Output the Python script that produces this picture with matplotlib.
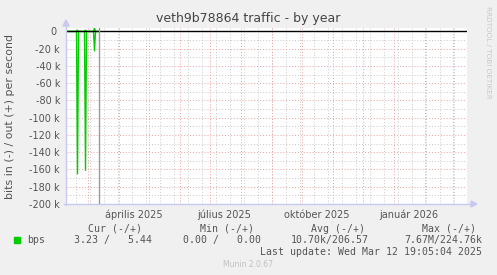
import matplotlib
matplotlib.use("Agg")
import matplotlib.pyplot as plt
import matplotlib.dates as mdates
import pandas as pd
import numpy as np
from matplotlib.lines import Line2D

# ---------------- data ----------------
title = "veth9b78864 traffic - by year"
ylabel = "bits in (-) / out (+) per second"

day_dates = pd.date_range("2025-02-09", "2025-03-12", freq="D")
in_values = [0, 2, 3, 2, 1, 3, 2, 4, 2, 3, -165000, 3, 2, 1, 2, 3, 2, 2, -161000, 2,
             3, 1, 2, 2, 3, 2, 2, -22500, 3, 2, 1, 3]
out_values = [5, 4, 6, 5, 4, 6, 5, 6, 5, 4, 1500, 5, 6, 4, 5, 6, 5, 4, 1500, 5,
              6, 4, 5, 6, 5, 4, 5, 4200, 5, 6, 5, 5]
last_update = pd.Timestamp("2025-03-12 19:05:04")

view_start = pd.Timestamp("2025-02-08 12:00")
view_end = view_start + pd.Timedelta(days=400)
y_min, y_max = -200000, 4000
y_ticks = list(range(-200000, 1, 20000))
y_tick_labels = ["-200 k", "-180 k", "-160 k", "-140 k", "-120 k", "-100 k", "-80 k",
                 "-60 k", "-40 k", "-20 k", "0 "]
x_label_months = ["2025-04-01", "2025-07-01", "2025-10-01", "2026-01-01"]
x_label_texts = ["április 2025", "július 2025", "október 2025", "január 2026"]

legend_headers = ["Cur (-/+)", "Min (-/+)", "Avg (-/+)", "Max (-/+)"]
legend_values = ["3.23 /   5.44", "0.00 /   0.00", "10.70k/206.57", "7.67M/224.76k"]
series_name = "bps"
update_text = "Last update: Wed Mar 12 19:05:04 2025"

# ---------------- figure ----------------
W, H = 497, 275
fig = plt.figure(figsize=(W / 100, H / 100), dpi=100, facecolor="#F0F0F0")

def fx(px):
    return px / W

def fy(py):
    return 1 - py / H

left, right, top, bottom = 67, 467, 28, 204
ax = fig.add_axes([fx(left), fy(bottom), (right - left) / W, (bottom - top) / H])
ax.set_facecolor("white")
for s in ax.spines.values():
    s.set_visible(False)

x0 = mdates.date2num(view_start)
x1 = mdates.date2num(view_end)
ax.set_xlim(x0, x1)
ax.set_ylim(y_min, y_max)

grid_minor = "#c8c8c8"
grid_major = "#eba0a0"
dot = (0, (1, 2))

# horizontal grid
for v in range(-190000, 0, 20000):
    ax.axhline(v, color=grid_minor, lw=0.7, ls=dot, zorder=1)
for v in y_ticks[:-1]:
    ax.axhline(v, color=grid_major, lw=0.7, ls=dot, zorder=1.5)

# vertical grid
minor_dates = pd.date_range("2025-02-17", view_end, freq="14D")
for d in minor_dates:
    ax.axvline(mdates.date2num(d), color=grid_minor, lw=0.7, ls=dot, zorder=1)
month_dates = pd.date_range("2025-03-01", view_end, freq="MS")
for d in month_dates:
    ax.axvline(mdates.date2num(d), color=grid_major, lw=0.7, ls=dot, zorder=1.5)

# data
xd = mdates.date2num(day_dates)
ax.plot(xd, in_values, color="#00CC00", lw=1.0, zorder=2)
ax.plot(xd, out_values, color="#00CC00", lw=1.0, zorder=2)

# zero line
ax.axhline(0, color="black", lw=1.0, zorder=2.2)

# last update marker
ax.axvline(mdates.date2num(last_update), color="#999999", lw=1.0, zorder=2.5)

# ticks
ax.set_yticks(y_ticks)
ax.set_yticklabels(y_tick_labels)
label_pos = [mdates.date2num(pd.Timestamp(m) + pd.Timedelta(days=15)) for m in x_label_months]
ax.set_xticks(label_pos)
ax.set_xticklabels(x_label_texts)
ax.tick_params(axis="both", length=0, labelsize=7, colors="#555555")
ax.tick_params(axis="y", pad=5)
ax.tick_params(axis="x", pad=4)

# axes lines with arrows
axis_col = "#c8c8f0"
fig.add_artist(Line2D([fx(66), fx(66)], [fy(205), fy(26)], color=axis_col, lw=1))
fig.add_artist(Line2D([fx(64), fx(471)], [fy(204), fy(204)], color=axis_col, lw=1))
fig.patches.append(plt.Polygon([[fx(63), fy(26)], [fx(69), fy(26)], [fx(66), fy(20)]],
                               closed=True, color=axis_col, transform=fig.transFigure, figure=fig))
fig.patches.append(plt.Polygon([[fx(471), fy(201)], [fx(471), fy(207)], [fx(477), fy(204)]],
                               closed=True, color=axis_col, transform=fig.transFigure, figure=fig))

# texts
fig.text(fx(248.5), fy(18.5), title, ha="center", va="center", fontsize=9.0, color="#444444")
fig.text(fx(10), fy(116.5), ylabel, ha="center", va="center", rotation=90, fontsize=7.9, color="#555555")
fig.text(fx(488), fy(6), "RRDTOOL / TOBI OETIKER", ha="center", va="top", rotation=270,
         fontsize=5.2, color="#c8c8c8")

mono = "DejaVu Sans Mono"
header_right = [142, 254, 365, 476]
value_right = [152, 261, 369, 482]
for hx, htxt in zip(header_right, legend_headers):
    fig.text(fx(hx), fy(228.5), htxt, ha="right", va="center", family=mono, fontsize=7.1, color="#555555")
for vx, vtxt in zip(value_right, legend_values):
    fig.text(fx(vx), fy(240), vtxt, ha="right", va="center", family=mono, fontsize=7.1, color="#555555")
fig.patches.append(plt.Rectangle((fx(14), fy(242.5)), 6 / W, 6 / H, color="#00CC00",
                                 transform=fig.transFigure, figure=fig))
fig.text(fx(27), fy(240), series_name, ha="left", va="center", family=mono, fontsize=7.1, color="#555555")
fig.text(fx(482), fy(252), update_text, ha="right", va="center", family=mono, fontsize=7.1, color="#555555")
fig.text(fx(248), fy(264.5), "Munin 2.0.67", ha="center", va="center", fontsize=5.5, color="#c0c0c0")

fig.savefig("out.png", dpi=100, facecolor=fig.get_facecolor())
